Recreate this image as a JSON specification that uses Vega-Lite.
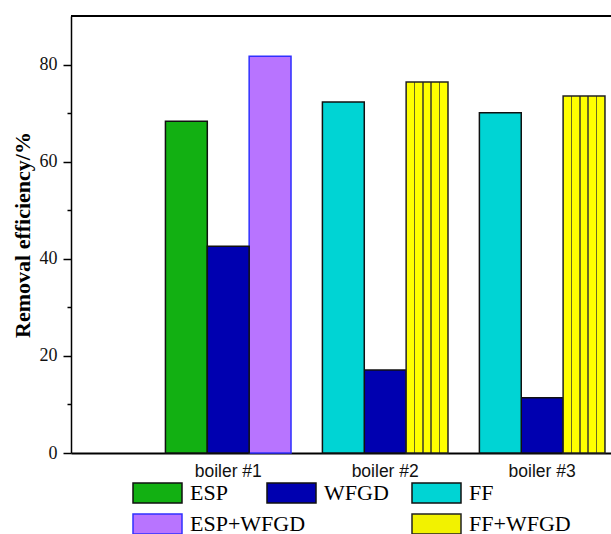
{
  "$schema": "https://vega.github.io/schema/vega-lite/v6.json",
  "width": 540,
  "height": 437,
  "autosize": {"type": "none"},
  "padding": {"left": 71, "top": 16, "right": 0, "bottom": 81},
  "background": "white",
  "config": {
    "view": {"stroke": null},
    "font": "Liberation Serif",
    "legend": {
      "orient": "none",
      "direction": "vertical",
      "title": null,
      "padding": 0,
      "rowPadding": 5,
      "symbolType": "M-2.45,-1H2.45V1H-2.45Z",
      "symbolSize": 400,
      "symbolStrokeWidth": 1.5,
      "symbolOpacity": 1,
      "labelFont": "Liberation Serif",
      "labelFontSize": 22,
      "labelOffset": 21.5,
      "labelColor": "black",
      "labelLimit": 300
    }
  },
  "data": {
    "values": [
      {"boiler": "boiler #1", "stage": "primary", "series": "ESP", "efficiency": 68.3},
      {"boiler": "boiler #1", "stage": "WFGD", "series": "WFGD", "efficiency": 42.6},
      {"boiler": "boiler #1", "stage": "combined", "series": "ESP+WFGD", "efficiency": 81.7},
      {"boiler": "boiler #2", "stage": "primary", "series": "FF", "efficiency": 72.3},
      {"boiler": "boiler #2", "stage": "WFGD", "series": "WFGD", "efficiency": 17.1},
      {"boiler": "boiler #2", "stage": "combined", "series": "FF+WFGD", "efficiency": 76.4},
      {"boiler": "boiler #3", "stage": "primary", "series": "FF", "efficiency": 70.1},
      {"boiler": "boiler #3", "stage": "WFGD", "series": "WFGD", "efficiency": 11.4},
      {"boiler": "boiler #3", "stage": "combined", "series": "FF+WFGD", "efficiency": 73.5}
    ]
  },
  "encoding": {
    "x": {
      "field": "boiler",
      "type": "nominal",
      "sort": ["boiler #1", "boiler #2", "boiler #3"],
      "scale": {"domain": ["boiler #1", "boiler #2", "boiler #3"], "paddingInner": 0.2, "paddingOuter": 0.32, "align": 0.94},
      "axis": {
        "title": null,
        "labelAngle": 0,
        "ticks": false,
        "labelFont": "Liberation Sans",
        "labelFontSize": 17.5,
        "labelColor": "#111",
        "labelPadding": 9,
        "domainColor": "black",
        "domainWidth": 2
      }
    },
    "xOffset": {
      "field": "stage",
      "type": "nominal",
      "scale": {"domain": ["primary", "WFGD", "combined"], "paddingInner": 0, "paddingOuter": 0}
    },
    "y": {
      "field": "efficiency",
      "type": "quantitative",
      "title": "Removal efficiency/%",
      "scale": {"domain": [0, 90], "nice": false},
      "axis": {
        "values": [0, 10, 20, 30, 40, 50, 60, 70, 80],
        "labelExpr": "datum.value % 20 === 0 ? datum.label : ''",
        "grid": false,
        "tickSize": {"condition": {"test": "datum.value % 20 === 0", "value": 8}, "value": 4},
        "tickColor": "black",
        "tickWidth": 1.5,
        "domainColor": "black",
        "domainWidth": 1.5,
        "labelFont": "Liberation Serif",
        "labelFontSize": 18,
        "labelColor": "#111",
        "labelPadding": 6,
        "titleFont": "Liberation Serif",
        "titleFontSize": 22,
        "titleFontWeight": "bold",
        "titleColor": "black",
        "titlePadding": 5
      }
    }
  },
  "layer": [
    {
      "transform": [{"filter": "datum.series === 'ESP' || datum.series === 'ESP+WFGD'"}],
      "mark": {"type": "bar", "strokeWidth": 1.5},
      "encoding": {
        "fill": {
          "field": "series",
          "type": "nominal",
          "scale": {"domain": ["ESP", "ESP+WFGD"], "range": ["#12b012", "#b874ff"]},
          "legend": {"legendX": 75.5, "legendY": 466}
        },
        "stroke": {
          "field": "series",
          "type": "nominal",
          "scale": {"domain": ["ESP", "ESP+WFGD"], "range": ["#111", "#3030ff"]},
          "legend": {"legendX": 75.5, "legendY": 466}
        }
      }
    },
    {
      "transform": [{"filter": "datum.series === 'WFGD'"}],
      "mark": {"type": "bar", "strokeWidth": 1.5},
      "encoding": {
        "fill": {
          "field": "series",
          "type": "nominal",
          "scale": {"domain": ["WFGD"], "range": ["#0000b0"]},
          "legend": {"legendX": 209.5, "legendY": 466}
        },
        "stroke": {
          "field": "series",
          "type": "nominal",
          "scale": {"domain": ["WFGD"], "range": ["#111"]},
          "legend": {"legendX": 209.5, "legendY": 466}
        }
      }
    },
    {
      "transform": [{"filter": "datum.series === 'FF' || datum.series === 'FF+WFGD'"}],
      "mark": {"type": "bar", "strokeWidth": 1.5},
      "encoding": {
        "fill": {
          "condition": {
            "test": "datum.series === 'FF+WFGD'",
            "value": {
              "gradient": "linear",
              "x1": 0, "y1": 0, "x2": 1, "y2": 0,
              "stops": [
                {"offset": 0, "color": "#ffff00"},
                {"offset": 0.18, "color": "#ffff00"},
                {"offset": 0.18, "color": "#6b6b20"},
                {"offset": 0.22, "color": "#6b6b20"},
                {"offset": 0.22, "color": "#ffff00"},
                {"offset": 0.38, "color": "#ffff00"},
                {"offset": 0.38, "color": "#6b6b20"},
                {"offset": 0.42, "color": "#6b6b20"},
                {"offset": 0.42, "color": "#ffff00"},
                {"offset": 0.58, "color": "#ffff00"},
                {"offset": 0.58, "color": "#6b6b20"},
                {"offset": 0.62, "color": "#6b6b20"},
                {"offset": 0.62, "color": "#ffff00"},
                {"offset": 0.78, "color": "#ffff00"},
                {"offset": 0.78, "color": "#6b6b20"},
                {"offset": 0.82, "color": "#6b6b20"},
                {"offset": 0.82, "color": "#ffff00"},
                {"offset": 1, "color": "#ffff00"}
              ]
            }
          },
          "field": "series",
          "type": "nominal",
          "scale": {"domain": ["FF", "FF+WFGD"], "range": ["#00d4d4", "#f2f200"]},
          "legend": {"legendX": 354.5, "legendY": 466}
        },
        "stroke": {
          "field": "series",
          "type": "nominal",
          "scale": {"domain": ["FF", "FF+WFGD"], "range": ["#111", "#222"]},
          "legend": {"legendX": 354.5, "legendY": 466}
        }
      }
    },
    {
      "mark": {"type": "rule", "color": "black", "strokeWidth": 1.5},
      "encoding": {"y": {"datum": 90}, "x": null, "xOffset": null}
    }
  ],
  "resolve": {"scale": {"fill": "independent", "stroke": "independent"}}
}
